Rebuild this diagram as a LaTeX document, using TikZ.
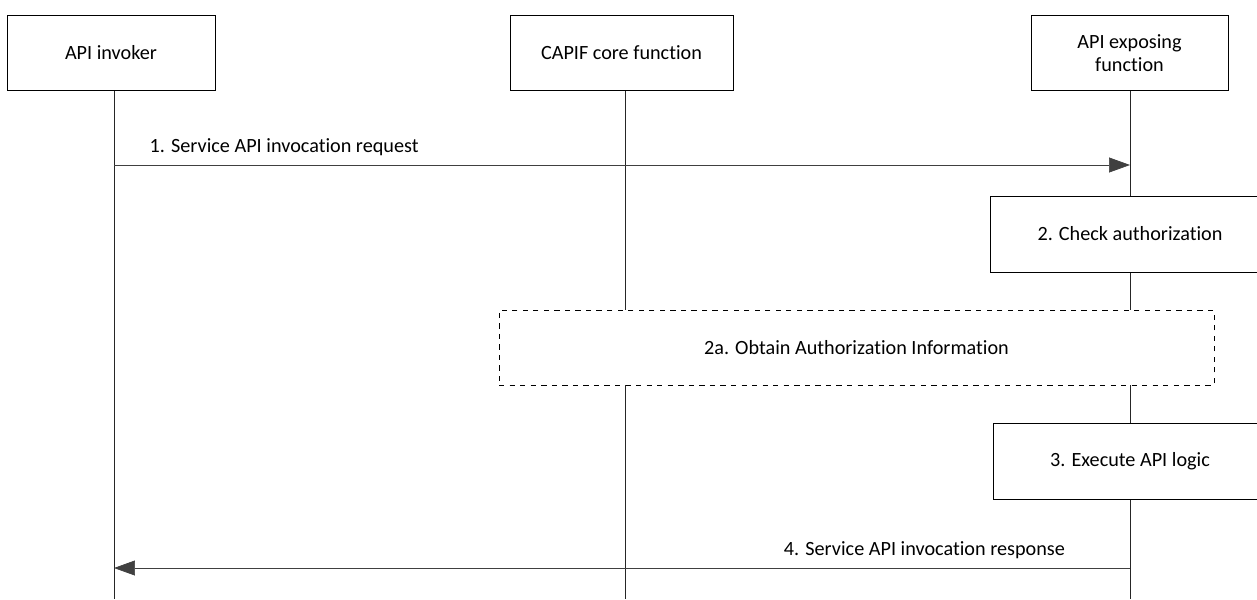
\documentclass[tikz,border=0pt]{standalone}
\usepackage{fontspec}
\setmainfont{Carlito}[Ligatures={NoCommon}]
\usetikzlibrary{arrows.meta, positioning}

\begin{document}
\begin{tikzpicture}[
    x=0.02cm, y=-0.02cm,
    >={Triangle[length=0.42cm, width=0.3cm]},
    font=\fontsize{11.5}{13.5}\selectfont,
    entity/.style={
        draw,
        rectangle,
        minimum height=1.5cm,
        align=center,
        fill=white
    },
    action/.style={
        draw,
        rectangle,
        minimum height=1.52cm,
        fill=white
    },
    optional/.style={
        draw,
        dashed,
        rectangle,
        minimum height=1.5cm,
        minimum width=14.3cm,
        fill=white
    },
    lifeline/.style={draw=black!85},
    msg/.style={->, draw=black!75}
]
\useasboundingbox (0,0) rectangle (1257,599);

\node[entity, minimum width=4.16cm] (inv) at (111,53) {API invoker};
\node[entity, minimum width=4.46cm] (ccf) at (621.5,53) {CAPIF core function};
\node[entity, minimum width=3.94cm] (aef) at (1129.5,53) {API exposing\\function};

\coordinate (bottom) at (0,599);
\coordinate (m1) at (0,165);
\coordinate (m4) at (0,568);

% lifelines first, the step boxes cover them
\draw[lifeline] (inv.south -| 114,0) -- (bottom -| 114,0);
\draw[lifeline] (ccf.south -| 625,0) -- (bottom -| 625,0);
\draw[lifeline] (aef.south -| 1130,0) -- (bottom -| 1130,0);

\node[action, minimum width=5.6cm] (check) at (1130,234) {2. Check authorization};
\node[optional] (obtain) at (856.5,347.5) {2a. Obtain Authorization Information};
\node[action, minimum width=5.48cm] (exec) at (1130,461) {3. Execute API logic};

\draw[msg] (m1 -| 114,0) -- node[pos=0.029, anchor=south west, yshift=2pt] {1. Service API invocation request} (m1 -| 1130,0);
\draw[msg] (m4 -| 1130,0) -- node[pos=0.058, anchor=south east, yshift=2pt] {4. Service API invocation response} (m4 -| 114,0);

\end{tikzpicture}
\end{document}
